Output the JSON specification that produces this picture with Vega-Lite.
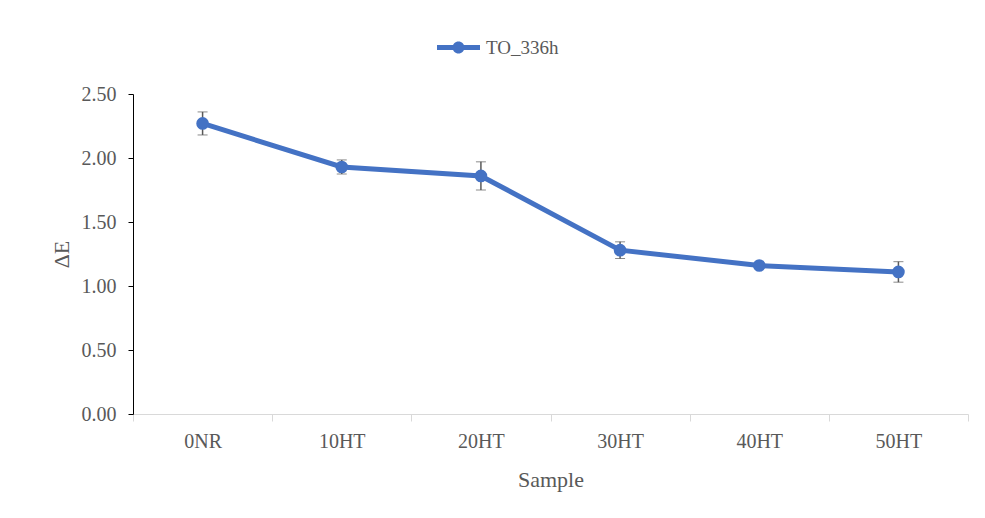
{
  "$schema": "https://vega.github.io/schema/vega-lite/v6.json",
  "width": 835,
  "height": 320,
  "autosize": {"type": "none"},
  "padding": {"left": 133, "top": 94, "right": 17, "bottom": 104},
  "background": "white",
  "config": {
    "view": {"stroke": null},
    "font": "Liberation Serif",
    "axis": {
      "labelFont": "Liberation Serif",
      "titleFont": "Liberation Serif",
      "labelColor": "#595959",
      "titleColor": "#595959",
      "labelFontSize": 20,
      "titleFontSize": 22,
      "titleFontWeight": "normal",
      "grid": false
    },
    "legend": {"labelFont": "Liberation Serif", "labelFontSize": 19, "labelColor": "#595959"}
  },
  "data": {
    "values": [
      {"sample": "0NR", "dE": 2.27, "err": 0.09, "series": "TO_336h"},
      {"sample": "10HT", "dE": 1.93, "err": 0.055, "series": "TO_336h"},
      {"sample": "20HT", "dE": 1.86, "err": 0.11, "series": "TO_336h"},
      {"sample": "30HT", "dE": 1.28, "err": 0.065, "series": "TO_336h"},
      {"sample": "40HT", "dE": 1.16, "err": 0.02, "series": "TO_336h"},
      {"sample": "50HT", "dE": 1.11, "err": 0.08, "series": "TO_336h"}
    ]
  },
  "encoding": {
    "x": {
      "field": "sample",
      "type": "nominal",
      "sort": null,
      "scale": {"paddingInner": 0, "paddingOuter": 0},
      "axis": {
        "title": "Sample",
        "labelAngle": 0,
        "domainColor": "#d9d9d9",
        "tickColor": "#d9d9d9",
        "tickBand": "extent",
        "tickSize": 7,
        "labelPadding": 10,
        "titlePadding": 18
      }
    },
    "y": {
      "field": "dE",
      "type": "quantitative",
      "scale": {"domain": [0, 2.5], "nice": false, "zero": true},
      "axis": {
        "title": "ΔE",
        "values": [0, 0.5, 1, 1.5, 2, 2.5],
        "format": ".2f",
        "domainColor": "black",
        "tickColor": "black",
        "tickSize": 5,
        "labelPadding": 12,
        "titlePadding": 8
      }
    }
  },
  "layer": [
    {
      "mark": {"type": "line", "strokeWidth": 5, "color": "#4472c4"},
      "encoding": {
        "color": {
          "field": "series",
          "type": "nominal",
          "scale": {"range": ["#4472c4"]},
          "legend": {
            "title": null,
            "orient": "none",
            "legendX": 304,
            "legendY": -68,
            "symbolType": "M-1,-0.116 L1,-0.116 L1,0.116 L-1,0.116 Z M0.28,0 A0.28,0.28 0 1,1 -0.28,0 A0.28,0.28 0 1,1 0.28,0 Z",
            "symbolSize": 1849,
            "symbolFillColor": "#4472c4",
            "symbolStrokeWidth": 0,
            "labelOffset": 6
          }
        }
      }
    },
    {
      "mark": {"type": "errorbar", "ticks": {"size": 10, "color": "#595959", "strokeWidth": 1.5}, "rule": {"color": "#595959", "strokeWidth": 1.5}},
      "encoding": {
        "y": {"field": "dE", "type": "quantitative", "title": "ΔE"},
        "yError": {"field": "err"}
      }
    },
    {
      "mark": {"type": "point", "filled": true, "size": 160, "opacity": 1, "color": "#4472c4"}
    }
  ]
}
